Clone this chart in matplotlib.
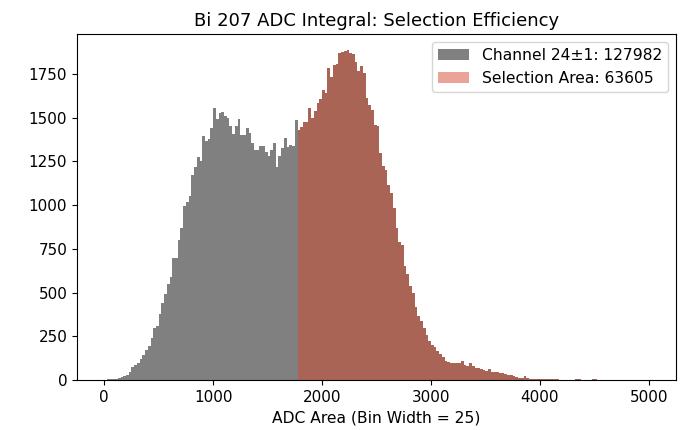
import numpy as np
import matplotlib
matplotlib.use("Agg")
import matplotlib.pyplot as plt

bin_width = 25
bin_edges = np.arange(0, 5000 + bin_width, bin_width)

counts = [
    0, 3, 4, 5, 6, 12, 15, 25, 30, 45,
    72, 85, 95, 120, 145, 170, 195, 238, 300, 310,
    380, 440, 490, 550, 590, 700, 695, 800, 870, 995,
    1020, 1050, 1170, 1215, 1275, 1250, 1397, 1366, 1378, 1439,
    1553, 1492, 1525, 1530, 1511, 1499, 1454, 1404, 1452, 1492,
    1400, 1400, 1438, 1410, 1353, 1315, 1315, 1337, 1337, 1305,
    1280, 1315, 1353, 1216, 1281, 1325, 1382, 1334, 1344, 1338,
    1486, 1429, 1444, 1477, 1477, 1553, 1496, 1535, 1582, 1605,
    1658, 1639, 1782, 1734, 1801, 1806, 1868, 1877, 1881, 1883,
    1868, 1864, 1820, 1763, 1792, 1753, 1611, 1573, 1544, 1458,
    1449, 1296, 1224, 1201, 1115, 1068, 982, 868, 791, 772,
    650, 605, 537, 500, 420, 365, 335, 298, 258, 225,
    199, 190, 165, 148, 130, 110, 105, 99, 95, 99,
    95, 109, 86, 80, 95, 80, 71, 67, 61, 57,
    53, 61, 48, 48, 44, 42, 42, 36, 30, 26,
    21, 17, 12, 10, 22, 10, 8, 8, 4, 8,
    8, 7, 5, 4, 8, 6, 3, 2, 2, 2,
    1, 2, 1, 7, 4, 2, 1, 1, 0, 3,
    3, 0, 1, 0, 0, 1, 0, 0, 0, 0,
    0, 0, 0, 0, 0, 0, 0, 0, 0, 0,
]

selection_start = 1775
total_label = "Channel 24\u00b11: 127982"
selection_label = "Selection Area: 63605"

counts = np.array(counts, dtype=float)
left = bin_edges[:-1]
sel_mask = left >= selection_start

fig = plt.figure(figsize=(6.84, 4.30), dpi=100)
ax = fig.add_axes([77 / 684, 50 / 430, 599 / 684, 346 / 430])

ax.hist(left, bins=bin_edges, weights=counts, color="gray",
        label=total_label)
ax.hist(left[sel_mask], bins=bin_edges, weights=counts[sel_mask],
        color=(214 / 255, 71 / 255, 44 / 255), alpha=0.49,
        label=selection_label)

ax.set_title("Bi 207 ADC Integral: Selection Efficiency", fontsize=13)
ax.set_xlabel("ADC Area (Bin Width = 25)", fontsize=11.2)
ax.tick_params(labelsize=10.9)
ax.legend(loc="upper right", fontsize=11.2)

fig.savefig("out.png", dpi=100)
